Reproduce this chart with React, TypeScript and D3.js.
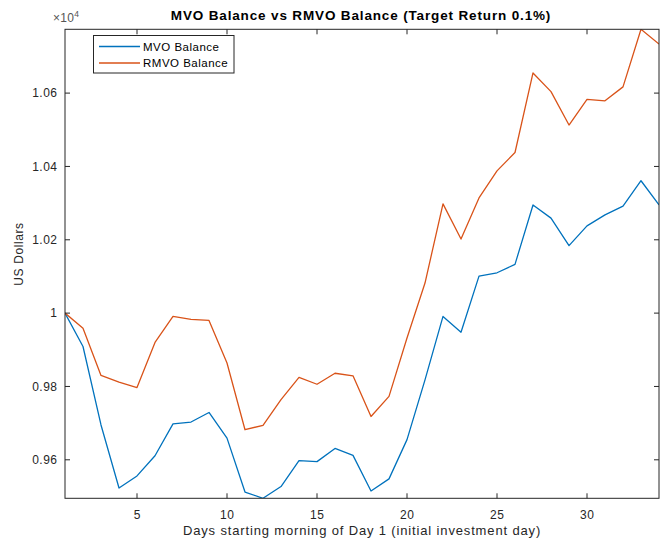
import React from "react";
import * as d3 from "d3";

const days = [1, 2, 3, 4, 5, 6, 7, 8, 9, 10, 11, 12, 13, 14, 15, 16, 17, 18, 19, 20, 21, 22, 23, 24, 25, 26, 27, 28, 29, 30, 31, 32, 33, 34];
const mvoBalance = [10000, 9909, 9695, 9523, 9556, 9611, 9698, 9703, 9729, 9659, 9512, 9495, 9527, 9598, 9595, 9631, 9612, 9515, 9548, 9655, 9818, 9991, 9948, 10101, 10110, 10133, 10295, 10259, 10184, 10238, 10268, 10292, 10361, 10295];
const rmvoBalance = [10000, 9959, 9830, 9812, 9797, 9920, 9991, 9983, 9980, 9864, 9682, 9694, 9764, 9825, 9806, 9836, 9829, 9718, 9773, 9932, 10082, 10298, 10202, 10314, 10388, 10438, 10655, 10604, 10513, 10583, 10579, 10617, 10774, 10734];
const xTicks = [5, 10, 15, 20, 25, 30];
const yTicks = [9600, 9800, 10000, 10200, 10400, 10600];
const seriesNames = ["MVO Balance", "RMVO Balance"];
const seriesColors = ["#0072BD", "#D95319"];

const W = 660, H = 544;
const L = 65, R = 659, T = 29.3, B = 498.3;
const FONT = "'Liberation Sans', Arial, Helvetica, sans-serif";
const AX = "#262626";

export default function App() {
  const x = d3.scaleLinear().domain(d3.extent(days) as [number, number]).range([L, R]);
  const all = mvoBalance.concat(rmvoBalance);
  const y = d3.scaleLinear().domain(d3.extent(all) as [number, number]).range([B, T]);
  const line = d3.line<number>().x((_, i) => x(days[i])).y((v) => y(v));
  const series = [mvoBalance, rmvoBalance];
  const fmt = (v: number) => String(+(v / 1e4).toFixed(2));
  const tl = 5;
  return (
    <svg width={W} height={H} style={{ position: "absolute", left: 0, top: 0, background: "#fff" }} fontFamily={FONT}>
      <rect x={0} y={0} width={W} height={H} fill="#fff" />
      <defs>
        <clipPath id="plot"><rect x={L} y={T} width={R - L} height={B - T} /></clipPath>
      </defs>
      <g clipPath="url(#plot)">
        {series.map((s, i) => (
          <path key={i} d={line(s) || ""} fill="none" stroke={seriesColors[i]} strokeWidth={1.3} strokeLinejoin="round" />
        ))}
      </g>
      <rect x={L} y={T} width={R - L} height={B - T} fill="none" stroke={AX} strokeWidth={1} />
      {xTicks.map((t) => (
        <g key={"x" + t}>
          <line x1={x(t)} x2={x(t)} y1={B} y2={B - tl} stroke={AX} />
          <line x1={x(t)} x2={x(t)} y1={T} y2={T + tl} stroke={AX} />
          <text x={x(t) + 0.3} y={519} fontSize={12} letterSpacing={0.5} fill={AX} textAnchor="middle">{t}</text>
        </g>
      ))}
      {yTicks.map((t) => (
        <g key={"y" + t}>
          <line x1={L} x2={L + tl} y1={y(t)} y2={y(t)} stroke={AX} />
          <line x1={R} x2={R - tl} y1={y(t)} y2={y(t)} stroke={AX} />
          <text x={57.5} y={y(t) + 4.2} fontSize={12} letterSpacing={0.5} fill={AX} textAnchor="end">{fmt(t)}</text>
        </g>
      ))}
      <text x={53} y={22} fontSize={12} letterSpacing={0.3} fill="#555">
        ×10<tspan fontSize={8.5} dy={-5}>4</tspan>
      </text>
      <text x={(L + R) / 2 - 1} y={20} fontSize={13.5} letterSpacing={0.85} fontWeight="bold" fill="#000" textAnchor="middle">
        MVO Balance vs RMVO Balance (Target Return 0.1%)
      </text>
      <text x={(L + R) / 2} y={535} fontSize={13} letterSpacing={0.85} fill={AX} textAnchor="middle">
        Days starting morning of Day 1 (initial investment day)
      </text>
      <text transform={`translate(23,254) rotate(-90)`} fontSize={12} letterSpacing={0.6} fill={AX} textAnchor="middle">
        US Dollars
      </text>
      <g>
        <rect x={93.5} y={35.5} width={140.5} height={37.5} fill="#fff" stroke={AX} strokeWidth={1} />
        {seriesNames.map((n, i) => (
          <g key={n}>
            <line x1={99} x2={140} y1={46.5 + i * 16.5} y2={46.5 + i * 16.5} stroke={seriesColors[i]} strokeWidth={1.3} />
            <text x={143} y={50.5 + i * 16.5} fontSize={11.5} letterSpacing={0.5} fill="#000">{n}</text>
          </g>
        ))}
      </g>
    </svg>
  );
}
